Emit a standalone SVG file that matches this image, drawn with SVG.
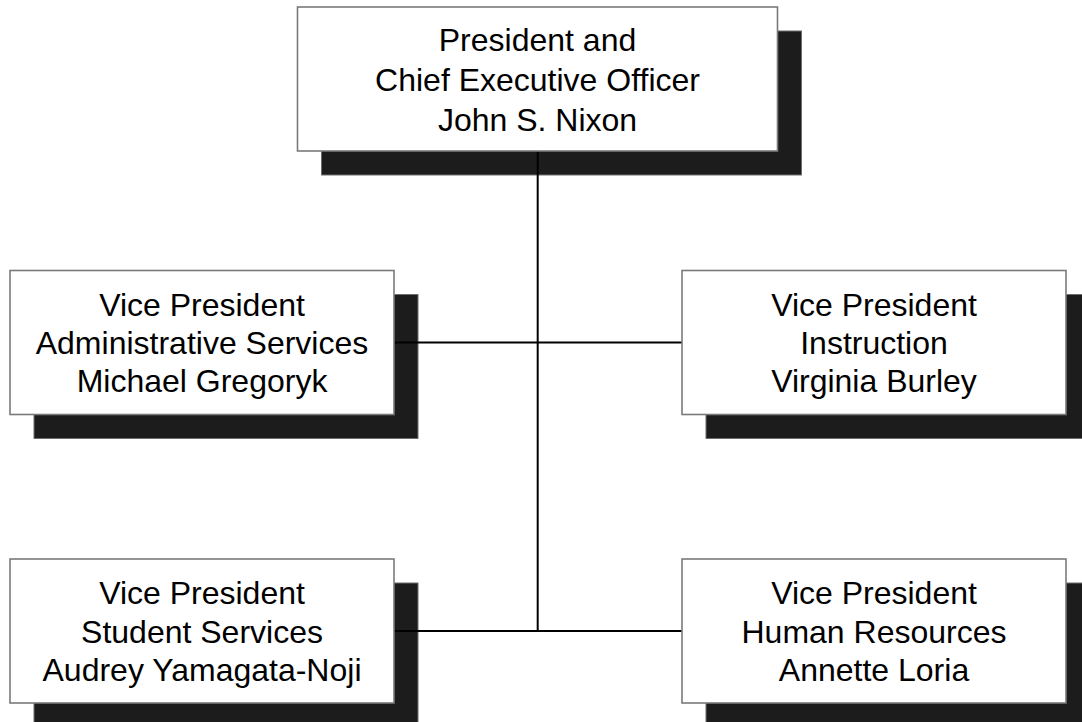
<svg xmlns="http://www.w3.org/2000/svg" width="1082" height="722" viewBox="0 0 1082 722">
<style>
.bg{fill:#ffffff}
.shadow{fill:#1c1c1c;stroke:#6e6e6e;stroke-width:1}
.box{fill:#ffffff;stroke:#7a7a7a;stroke-width:1.6}
.lbl{font-family:"Liberation Sans",Arial,sans-serif;font-size:32px;fill:#000000;text-anchor:middle}
.conn{stroke:#000000;stroke-width:2;fill:none}
</style>
<rect class="bg" x="0" y="0" width="1082" height="722"/>
<g id="shadows">
<rect class="shadow" x="321.5" y="31" width="480" height="144"/>
<rect class="shadow" x="34" y="294.5" width="384" height="144"/>
<rect class="shadow" x="706" y="294.5" width="384" height="144"/>
<rect class="shadow" x="34" y="583" width="384" height="144"/>
<rect class="shadow" x="706" y="583" width="384" height="144"/>
</g>
<g id="connectors">
<line class="conn" x1="537.7" y1="151" x2="537.7" y2="631"/>
<line class="conn" x1="394" y1="342.5" x2="682" y2="342.5"/>
<line class="conn" x1="394" y1="631" x2="682" y2="631"/>
</g>
<g id="president">
<rect class="box" x="297.5" y="7" width="480" height="144"/>
<text class="lbl" x="537.5" y="51">President and</text>
<text class="lbl" x="537.5" y="90.6">Chief Executive Officer</text>
<text class="lbl" x="537.5" y="130.8">John S. Nixon</text>
</g>
<g id="vp-admin">
<rect class="box" x="10" y="270.5" width="384" height="144"/>
<text class="lbl" x="202" y="315.7">Vice President</text>
<text class="lbl" x="202" y="354">Administrative Services</text>
<text class="lbl" x="202" y="392.3">Michael Gregoryk</text>
</g>
<g id="vp-instruction">
<rect class="box" x="682" y="270.5" width="384" height="144"/>
<text class="lbl" x="874" y="315.7">Vice President</text>
<text class="lbl" x="874" y="354">Instruction</text>
<text class="lbl" x="874" y="392.3">Virginia Burley</text>
</g>
<g id="vp-student">
<rect class="box" x="10" y="559" width="384" height="144"/>
<text class="lbl" x="202" y="604.2">Vice President</text>
<text class="lbl" x="202" y="642.5">Student Services</text>
<text class="lbl" x="202" y="680.8">Audrey Yamagata-Noji</text>
</g>
<g id="vp-hr">
<rect class="box" x="682" y="559" width="384" height="144"/>
<text class="lbl" x="874" y="604.2">Vice President</text>
<text class="lbl" x="874" y="642.5">Human Resources</text>
<text class="lbl" x="874" y="680.8">Annette Loria</text>
</g>
</svg>
